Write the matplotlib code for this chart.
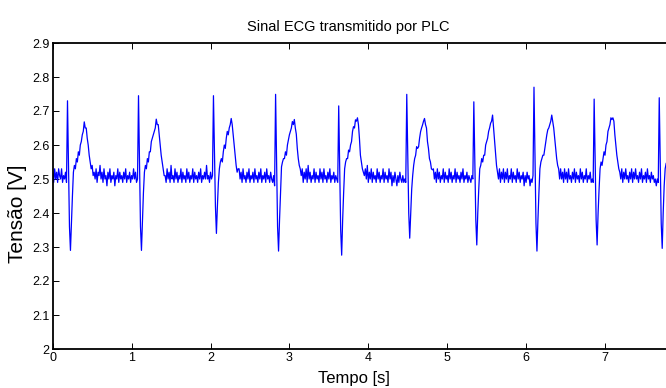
import numpy as np
import matplotlib
matplotlib.use("Agg")
import matplotlib.pyplot as plt

# ECG samples, one every 12.5 ms
dt = 0.0125
tensao = [
    # baseline
    2.52, 2.49, 2.53, 2.50, 2.52, 2.49, 2.53, 2.51, 2.50, 2.53,
    2.49, 2.51, 2.50, 2.52, 2.49,
    # beat 1
    2.73, 2.55, 2.36, 2.29, 2.37, 2.45, 2.52, 2.54, 2.53, 2.56,
    2.55, 2.58, 2.57, 2.60, 2.61, 2.63, 2.64, 2.668, 2.65, 2.65,
    2.62, 2.60, 2.57, 2.55, 2.53, 2.54, 2.51,
    2.52, 2.50, 2.53, 2.49, 2.52, 2.51, 2.54, 2.50, 2.52, 2.49,
    2.53, 2.50, 2.51, 2.48, 2.52, 2.50, 2.53, 2.49, 2.51, 2.50,
    2.52, 2.48, 2.51, 2.50, 2.53, 2.49, 2.52, 2.50, 2.51, 2.49,
    2.52, 2.50, 2.53, 2.49, 2.51, 2.50, 2.52, 2.49, 2.51, 2.50,
    2.53, 2.50, 2.52, 2.49, 2.50,
    # beat 2
    2.745, 2.55, 2.36, 2.29, 2.38, 2.46, 2.52, 2.54, 2.53, 2.56,
    2.55, 2.58, 2.58, 2.61, 2.62, 2.63, 2.64, 2.65, 2.676, 2.66,
    2.66, 2.63, 2.60, 2.57, 2.55, 2.53, 2.51,
    2.51, 2.49, 2.53, 2.50, 2.52, 2.49, 2.54, 2.50, 2.51, 2.49,
    2.53, 2.50, 2.52, 2.49, 2.51, 2.50, 2.53, 2.49, 2.52, 2.50,
    2.51, 2.49, 2.53, 2.50, 2.52, 2.49, 2.51, 2.50, 2.53, 2.49,
    2.52, 2.50, 2.51, 2.49, 2.52, 2.50, 2.53, 2.49, 2.51, 2.50,
    2.52, 2.50, 2.54, 2.50, 2.51, 2.49, 2.52, 2.50, 2.51,
    # beat 3
    2.745, 2.58, 2.42, 2.34, 2.42, 2.49, 2.53, 2.55, 2.56, 2.55,
    2.58, 2.60, 2.59, 2.62, 2.64, 2.63, 2.65, 2.66, 2.678, 2.66,
    2.63, 2.60, 2.57, 2.54, 2.52, 2.53,
    2.53, 2.50, 2.52, 2.49, 2.53, 2.50, 2.51, 2.49, 2.52, 2.50,
    2.53, 2.49, 2.51, 2.50, 2.52, 2.49, 2.53, 2.50, 2.51, 2.49,
    2.52, 2.50, 2.53, 2.49, 2.51, 2.50, 2.52, 2.49, 2.53, 2.50,
    2.51, 2.49, 2.52, 2.50, 2.49, 2.51, 2.48,
    # beat 4
    2.749, 2.56, 2.36, 2.288, 2.38, 2.46, 2.536, 2.55, 2.56, 2.56,
    2.58, 2.57, 2.60, 2.615, 2.63, 2.64, 2.65, 2.669, 2.66, 2.675,
    2.65, 2.632, 2.59, 2.56, 2.54, 2.53,
    2.51, 2.53, 2.49, 2.52, 2.50, 2.53, 2.49, 2.54, 2.50, 2.52,
    2.49, 2.51, 2.50, 2.53, 2.49, 2.52, 2.50, 2.51, 2.49, 2.53,
    2.50, 2.52, 2.49, 2.53, 2.50, 2.51, 2.49, 2.52, 2.50, 2.53,
    2.49, 2.51, 2.50, 2.52, 2.49, 2.51, 2.50, 2.49,
    # beat 5
    2.715, 2.54, 2.35, 2.276, 2.38, 2.46, 2.53, 2.55, 2.56, 2.56,
    2.585, 2.58, 2.60, 2.61, 2.64, 2.654, 2.65, 2.674, 2.67, 2.68,
    2.66, 2.62, 2.57, 2.55, 2.53, 2.52,
    2.51, 2.53, 2.50, 2.54, 2.49, 2.52, 2.50, 2.53, 2.49, 2.52,
    2.50, 2.51, 2.49, 2.53, 2.50, 2.52, 2.49, 2.51, 2.50, 2.53,
    2.49, 2.52, 2.50, 2.51, 2.49, 2.53, 2.50, 2.52, 2.48, 2.51,
    2.49, 2.52, 2.50, 2.48, 2.51, 2.49, 2.52, 2.50, 2.49, 2.51,
    2.49, 2.50, 2.49,
    # beat 6
    2.749, 2.57, 2.40, 2.326, 2.40, 2.47, 2.51, 2.54, 2.56, 2.57,
    2.595, 2.59, 2.595, 2.62, 2.639, 2.65, 2.659, 2.67, 2.678, 2.66,
    2.65, 2.61, 2.59, 2.56, 2.55, 2.53, 2.527,
    2.53, 2.50, 2.52, 2.49, 2.53, 2.50, 2.52, 2.49, 2.51, 2.50,
    2.53, 2.49, 2.52, 2.50, 2.51, 2.49, 2.53, 2.50, 2.52, 2.49,
    2.51, 2.50, 2.53, 2.49, 2.52, 2.50, 2.51, 2.49, 2.52, 2.50,
    2.53, 2.49, 2.51, 2.50, 2.52, 2.49, 2.51, 2.50, 2.49, 2.51,
    2.50,
    # beat 7
    2.727, 2.55, 2.38, 2.306, 2.40, 2.47, 2.53, 2.54, 2.56, 2.55,
    2.57, 2.57, 2.60, 2.61, 2.62, 2.64, 2.65, 2.664, 2.67, 2.688,
    2.65, 2.61, 2.57, 2.54, 2.52,
    2.50, 2.53, 2.49, 2.52, 2.50, 2.53, 2.49, 2.52, 2.50, 2.53,
    2.49, 2.51, 2.50, 2.53, 2.49, 2.52, 2.50, 2.51, 2.49, 2.53,
    2.50, 2.52, 2.49, 2.51, 2.50, 2.52, 2.48, 2.51, 2.49, 2.52,
    2.50, 2.51, 2.48, 2.50, 2.49, 2.51,
    # beat 8
    2.77, 2.57, 2.37, 2.288, 2.38, 2.46, 2.53, 2.55, 2.56, 2.57,
    2.57, 2.59, 2.61, 2.63, 2.645, 2.65, 2.66, 2.67, 2.688, 2.67,
    2.65, 2.62, 2.59, 2.56, 2.54, 2.53,
    2.50, 2.53, 2.50, 2.52, 2.49, 2.53, 2.50, 2.52, 2.49, 2.53,
    2.50, 2.51, 2.49, 2.52, 2.50, 2.53, 2.49, 2.52, 2.50, 2.51,
    2.49, 2.53, 2.50, 2.52, 2.49, 2.51, 2.50, 2.53, 2.49, 2.51,
    2.50, 2.52, 2.49, 2.50, 2.49,
    # beat 9
    2.735, 2.56, 2.38, 2.306, 2.40, 2.47, 2.53, 2.55, 2.54, 2.56,
    2.58, 2.57, 2.60, 2.61, 2.64, 2.65, 2.66, 2.68, 2.675, 2.68,
    2.67, 2.63, 2.60, 2.57, 2.55, 2.53, 2.52,
    2.50, 2.53, 2.49, 2.52, 2.50, 2.53, 2.50, 2.51, 2.49, 2.52,
    2.50, 2.53, 2.49, 2.52, 2.50, 2.53, 2.50, 2.51, 2.49, 2.52,
    2.50, 2.53, 2.49, 2.51, 2.50, 2.52, 2.49, 2.53, 2.50, 2.51,
    2.49, 2.52, 2.50, 2.51, 2.49, 2.50, 2.48, 2.50, 2.49,
    # beat 10 (cut by the right edge)
    2.739, 2.56, 2.37, 2.296, 2.40, 2.48, 2.53, 2.546, 2.55,
]

x_ticks = [0, 1, 2, 3, 4, 5, 6, 7]
y_ticks = [2.0, 2.1, 2.2, 2.3, 2.4, 2.5, 2.6, 2.7, 2.8, 2.9]
y_tick_labels = ["2", "2.1", "2.2", "2.3", "2.4", "2.5", "2.6", "2.7", "2.8", "2.9"]

plt.rcParams["font.family"] = ["Liberation Sans", "DejaVu Sans"]

t = np.arange(len(tensao)) * dt

W, H = 666, 388
fig = plt.figure(figsize=(W / 100, H / 100), dpi=100)
# axes runs past the right edge of the canvas, like the cropped original
ax = fig.add_axes([52.7 / W, 39 / H, 8 * 78.9 / W, 306 / H])
ax.plot(t, tensao, color="#0000ff", lw=0.9)

ax.set_xlim(0, 8)
ax.set_ylim(2, 2.9)
ax.set_xticks(x_ticks)
ax.set_yticks(y_ticks)
ax.set_yticklabels(y_tick_labels)
ax.tick_params(direction="in", top=True, right=True, length=4, width=0.7,
               labelsize=9, pad=2.5, colors="black")
for s in ax.spines.values():
    s.set_linewidth(1.3)

fig.text(348 / W, 1 - 27 / H, "Sinal ECG transmitido por PLC",
         ha="center", va="center", fontsize=10.5)
fig.text(354 / W, 1 - 378 / H, "Tempo [s]", ha="center", va="center", fontsize=12)
fig.text(18 / W, 1 - 214 / H, "Tensão [V]", ha="center", va="center",
         rotation=90, fontsize=15)

fig.savefig("out.png", dpi=100)
